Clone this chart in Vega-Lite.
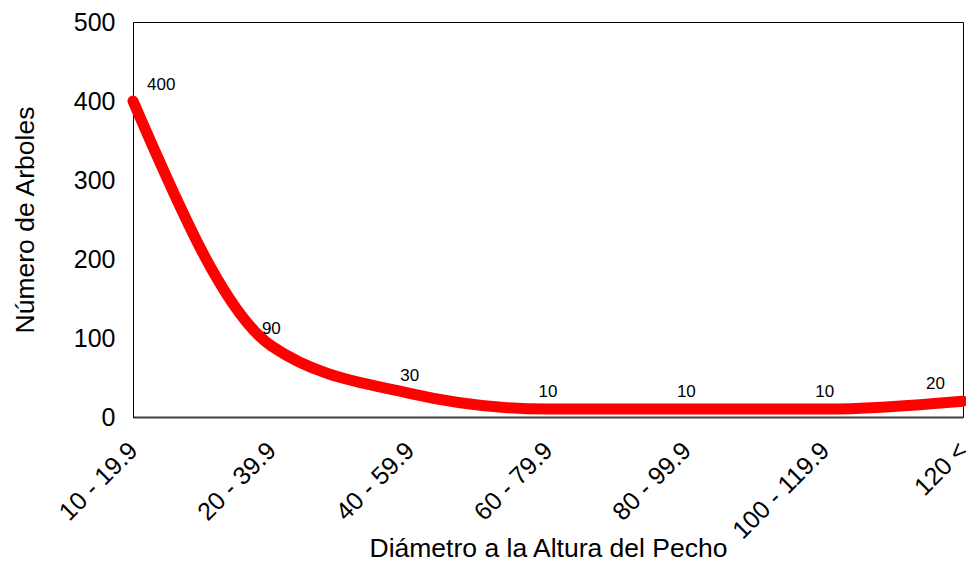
{
  "$schema": "https://vega.github.io/schema/vega-lite/v6.json",
  "width": 830,
  "height": 395,
  "autosize": {"type": "none"},
  "padding": {"left": 133, "top": 22, "right": 3, "bottom": 168},
  "background": "white",
  "config": {
    "font": "Liberation Sans",
    "view": {"stroke": "black", "strokeWidth": 1},
    "axis": {"grid": false, "ticks": false, "labelColor": "black", "titleColor": "black", "titleFontWeight": "normal", "labelFont": "Liberation Sans", "titleFont": "Liberation Sans"}
  },
  "data": {
    "values": [
      {"clase": "10 - 19.9", "arboles": 400, "pos": "first"},
      {"clase": "20 - 39.9", "arboles": 90, "pos": "mid"},
      {"clase": "40 - 59.9", "arboles": 30, "pos": "mid"},
      {"clase": "60 - 79.9", "arboles": 10, "pos": "mid"},
      {"clase": "80 - 99.9", "arboles": 10, "pos": "mid"},
      {"clase": "100 - 119.9", "arboles": 10, "pos": "mid"},
      {"clase": "120 <", "arboles": 20, "pos": "last"}
    ]
  },
  "encoding": {
    "x": {
      "field": "clase", "type": "ordinal", "sort": null,
      "scale": {"type": "point", "padding": 0},
      "axis": {"title": "Diámetro a la Altura del Pecho", "labelAngle": -45, "labelAlign": "right", "labelBaseline": "middle", "labelFontSize": 25, "titleFontSize": 26.5, "labelPadding": 29, "titleY": 139, "titleBaseline": "alphabetic", "domainColor": "#404040", "domainWidth": 2, "labelBound": false}
    },
    "y": {
      "field": "arboles", "type": "quantitative",
      "scale": {"domain": [0, 500], "nice": false},
      "axis": {"title": "Número de Arboles", "values": [0, 100, 200, 300, 400, 500], "labelFontSize": 25, "titleFontSize": 26.5, "labelPadding": 18, "titleX": -100, "titleBaseline": "alphabetic", "domainColor": "black"}
    }
  },
  "layer": [
    {"mark": {"type": "line", "color": "#FF0000", "strokeWidth": 11, "strokeCap": "round", "strokeJoin": "round", "interpolate": "monotone", "clip": false}},
    {"transform": [{"filter": "datum.pos == 'mid'"}], "mark": {"type": "text", "fontSize": 17, "dy": -17, "align": "center", "color": "black"}, "encoding": {"text": {"field": "arboles"}}},
    {"transform": [{"filter": "datum.pos == 'first'"}], "mark": {"type": "text", "fontSize": 17, "dy": -16, "dx": 14, "align": "left", "color": "black"}, "encoding": {"text": {"field": "arboles"}}},
    {"transform": [{"filter": "datum.pos == 'last'"}], "mark": {"type": "text", "fontSize": 17, "dy": -17, "dx": -18, "align": "right", "color": "black"}, "encoding": {"text": {"field": "arboles"}}}
  ]
}
